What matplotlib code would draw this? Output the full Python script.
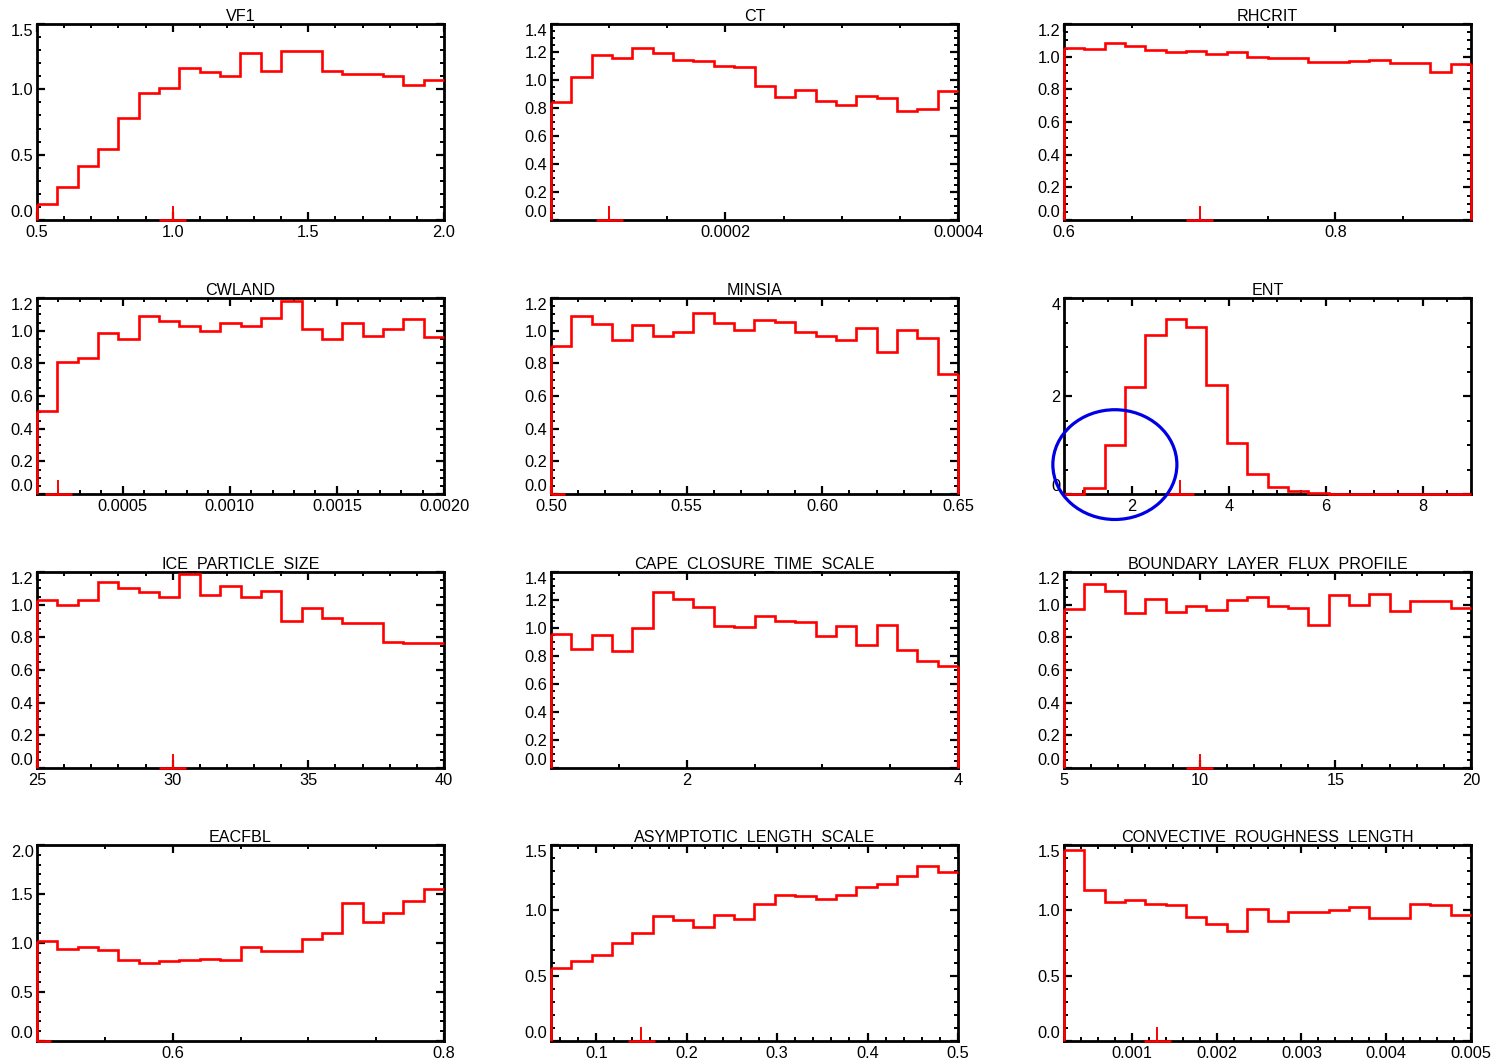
import numpy as np
import matplotlib
matplotlib.use("Agg")
import matplotlib.pyplot as plt
from matplotlib.ticker import MultipleLocator
from matplotlib.patches import Ellipse

plt.rcParams['font.family'] = ['Liberation Sans', 'DejaVu Sans']

# ---- parameter names and sampled ranges ----
names = ["VF1", "CT", "RHCRIT",
         "CWLAND", "MINSIA", "ENT",
         "ICE_PARTICLE_SIZE", "CAPE_CLOSURE_TIME_SCALE", "BOUNDARY_LAYER_FLUX_PROFILE",
         "EACFBL", "ASYMPTOTIC_LENGTH_SCALE", "CONVECTIVE_ROUGHNESS_LENGTH"]

x_ranges = [(0.5, 2.0), (5e-5, 4e-4), (0.6, 0.9),
            (1e-4, 2e-3), (0.5, 0.65), (0.6, 9.0),
            (25, 40), (1, 4), (5, 20),
            (0.5, 0.8), (0.05, 0.5), (2e-4, 5e-3)]

y_max = [1.5, 1.4, 1.2,
         1.2, 1.2, 4.0,
         1.2, 1.4, 1.2,
         2.0, 1.5, 1.5]

# standard (default) value of each parameter; None = outside plotted range
defaults = [1.0, 1e-4, 0.7,
            2e-4, 0.5, 3.0,
            30, None, 10,
            0.5, 0.15, 1.3e-3]

# normalised frequency in 20 equal bins across each range
vf1 = [0.12, 0.25, 0.41, 0.54, 0.78, 0.97, 1.01, 1.16, 1.13, 1.10,
       1.28, 1.14, 1.29, 1.29, 1.14, 1.12, 1.12, 1.10, 1.03, 1.07]
ct = [0.845, 1.02, 1.18, 1.155, 1.23, 1.195, 1.14, 1.135, 1.10, 1.09,
      0.96, 0.88, 0.93, 0.85, 0.82, 0.885, 0.873, 0.78, 0.795, 0.92]
rhcrit = [1.055, 1.045, 1.082, 1.066, 1.039, 1.031, 1.035, 1.018, 1.031, 1.0,
          0.994, 0.99, 0.967, 0.967, 0.973, 0.98, 0.963, 0.963, 0.908, 0.957]
cwland = [0.51, 0.81, 0.83, 0.985, 0.95, 1.09, 1.06, 1.03, 1.00, 1.05,
          1.03, 1.08, 1.18, 1.01, 0.95, 1.05, 0.97, 1.01, 1.07, 0.96]
minsia = [0.905, 1.087, 1.04, 0.94, 1.035, 0.967, 0.99, 1.107, 1.05, 1.004,
          1.066, 1.052, 0.994, 0.969, 0.942, 1.014, 0.87, 1.004, 0.953, 0.736]
ent = [0.0, 0.12, 0.99, 2.19, 3.24, 3.58, 3.40, 2.23, 1.05, 0.40,
       0.14, 0.055, 0.02, 0.007, 0.0, 0.0, 0.0, 0.0, 0.0, 0.0]
ice = [1.027, 1.0, 1.027, 1.14, 1.10, 1.078, 1.045, 1.19, 1.06, 1.117,
       1.047, 1.086, 0.90, 0.98, 0.918, 0.887, 0.887, 0.774, 0.768, 0.768]
cape = [0.96, 0.853, 0.952, 0.838, 1.0, 1.26, 1.21, 1.147, 1.014, 1.005,
        1.083, 1.047, 1.043, 0.94, 1.014, 0.88, 1.019, 0.841, 0.762, 0.729]
blfp = [0.975, 1.127, 1.082, 0.949, 1.035, 0.953, 0.994, 0.969, 1.031, 1.045,
        0.99, 0.98, 0.877, 1.062, 1.0, 1.068, 0.959, 1.025, 1.02, 0.979]
eacfbl = [1.017, 0.939, 0.956, 0.932, 0.826, 0.792, 0.812, 0.823, 0.836, 0.829,
          0.956, 0.915, 0.915, 1.041, 1.102, 1.406, 1.212, 1.307, 1.433, 1.556]
asym = [0.556, 0.613, 0.659, 0.749, 0.826, 0.954, 0.928, 0.869, 0.967, 0.936,
        1.049, 1.121, 1.108, 1.09, 1.121, 1.177, 1.205, 1.262, 1.338, 1.295]
conv = [1.459, 1.159, 1.064, 1.082, 1.049, 1.038, 0.946, 0.895, 0.844, 1.013,
        0.921, 0.985, 0.985, 1.005, 1.023, 0.941, 0.941, 1.049, 1.038, 0.967]

hist_values = [vf1, ct, rhcrit, cwland, minsia, ent, ice, cape, blfp, eacfbl, asym, conv]

# ---- axis styling per panel ----
x_major = [0.5, 0.0002, 0.2, 0.0005, 0.05, 2, 5, 2, 5, 0.2, 0.1, 0.001]
x_minor = [0.1, 0.00005, 0.05, 0.0001, 0.01, 0.5, 1, 0.5, 1, 0.05, 0.02, 0.0002]
y_major = [0.5, 0.2, 0.2, 0.2, 0.2, 2, 0.2, 0.2, 0.2, 0.5, 0.5, 0.5]
y_minor = [0.1, 0.05, 0.05, 0.05, 0.05, 0.5, 0.05, 0.05, 0.05, 0.1, 0.1, 0.1]
x_fmt = ['%.1f', '%.4f', '%.1f', '%.4f', '%.2f', '%d', '%d', '%d', '%d', '%.1f', '%.1f', '%.3f']
y_fmt = ['%.1f', '%.1f', '%.1f', '%.1f', '%.1f', '%d', '%.1f', '%.1f', '%.1f', '%.1f', '%.1f', '%.1f']
close_right = [False, False, True, False, True, False, False, True, False, False, False, False]

W, H = 1493, 1063
col_left = [37, 551, 1064]
row_top = [24, 298, 572, 845]
ax_w, ax_h = 407, 196

RED = '#ff0000'
fig = plt.figure(figsize=(W / 100, H / 100), dpi=100)

for i, name in enumerate(names):
    r, c = divmod(i, 3)
    ax = fig.add_axes([col_left[c] / W, 1 - (row_top[r] + ax_h) / H, ax_w / W, ax_h / H])
    x0, x1 = x_ranges[i]
    vals = np.asarray(hist_values[i])
    edges = np.linspace(x0, x1, len(vals) + 1)

    ax.stairs(vals, edges, baseline=None, color=RED, lw=1.9, zorder=4, clip_on=False)
    ax.vlines(edges[0], 0, vals[0], color=RED, lw=1.9, zorder=4, clip_on=False)
    if close_right[i]:
        ax.vlines(edges[-1], 0, vals[-1], color=RED, lw=1.9, zorder=4, clip_on=False)

    # standard-value marker
    d = defaults[i]
    if d is not None:
        hw = 0.0333 * (x1 - x0)
        seg_lo, seg_hi = max(d - hw, x0), min(d + hw, x1)
        ax.plot([seg_lo, seg_hi], [0, 0], color=RED, lw=1.9, zorder=4,
                solid_capstyle='butt', clip_on=False)
        ax.plot([d, d], [0, 0.065], color=RED, lw=1.4, zorder=4,
                transform=ax.get_xaxis_transform(), clip_on=False)

    ax.set_xlim(x0, x1)
    ax.set_ylim(0, y_max[i])

    # major ticks with labels
    xs = x_major[i]
    xt = np.arange(np.ceil(x0 / xs - 1e-6), np.floor(x1 / xs + 1e-6) + 1) * xs
    ax.set_xticks(xt, [x_fmt[i] % (round(v) if x_fmt[i] == '%d' else v) for v in xt])
    ys = y_major[i]
    yt = np.arange(0, np.floor(y_max[i] / ys + 1e-6) + 1) * ys
    ax.set_yticks(yt, [y_fmt[i] % (round(v) if y_fmt[i] == '%d' else v) for v in yt])
    ax.xaxis.set_minor_locator(MultipleLocator(x_minor[i]))
    ax.yaxis.set_minor_locator(MultipleLocator(y_minor[i]))

    ytl = ax.get_yticklabels()
    ytl[0].set_va('bottom')
    if abs(yt[-1] - y_max[i]) < 1e-9:
        ytl[-1].set_va('top')

    ax.tick_params(which='both', direction='in', top=True, right=True,
                   labelsize=11.8, colors='black')
    ax.tick_params(which='major', length=6, width=1.6)
    ax.tick_params(which='minor', length=3.2, width=1.4)
    ax.tick_params(axis='x', pad=3.5)
    ax.tick_params(axis='y', pad=2.5)
    for sp in ax.spines.values():
        sp.set_linewidth(2.0)
        sp.set_color('black')
        sp.set_zorder(3)

    ax.set_title(name, fontsize=11.6, pad=2.0)

    if name == "ENT":
        # highlight the low-entrainment tail
        ax.add_patch(Ellipse((1.65, 0.6), 2.56, 2.24, fill=False, ec='#0000e6',
                             lw=2.3, zorder=6, clip_on=False))

fig.savefig("out.png", dpi=100)
